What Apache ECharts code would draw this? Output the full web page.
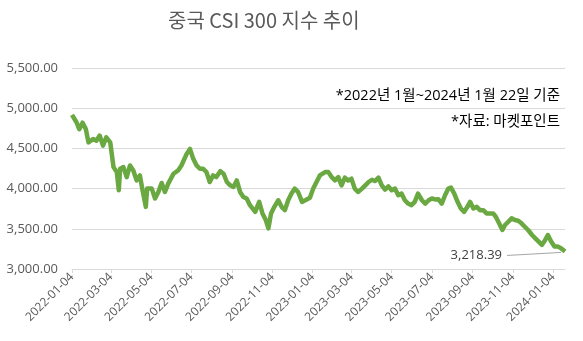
<!DOCTYPE html>
<html><head><meta charset="utf-8">
<script src="https://cdn.jsdelivr.net/npm/echarts@6/dist/echarts.min.js"></script>
<style>html,body{margin:0;padding:0;background:#fff}#c{width:583px;height:341px}</style>
</head><body><div id="c"></div>
<script>
const titleText = '중국 CSI 300 지수 추이';
const noteLines = ['*2022년 1월~2024년 1월 22일 기준', '*자료: 마켓포인트'];
const startDate = '2022-01-04';
const endDate = '2024-01-22';
const tickLabels = ['2022-01-04','2022-03-04','2022-05-04','2022-07-04','2022-09-04','2022-11-04','2023-01-04','2023-03-04','2023-05-04','2023-07-04','2023-09-04','2023-11-04','2024-01-04'];
const pointDates = [
'2022-01-04','2022-01-11','2022-01-15','2022-01-20','2022-01-25','2022-01-29','2022-02-05','2022-02-10','2022-02-15','2022-02-20','2022-02-25',
'2022-03-03','2022-03-08','2022-03-13','2022-03-16','2022-03-18','2022-03-23','2022-03-28','2022-04-02','2022-04-07','2022-04-12','2022-04-17','2022-04-21','2022-04-26','2022-04-28',
'2022-05-05','2022-05-10','2022-05-15','2022-05-20','2022-05-25','2022-05-30','2022-06-07','2022-06-14','2022-06-19','2022-06-27','2022-07-02','2022-07-07','2022-07-12','2022-07-17','2022-07-22','2022-07-27',
'2022-08-01','2022-08-06','2022-08-11','2022-08-17','2022-08-22','2022-08-27','2022-09-01','2022-09-06','2022-09-11','2022-09-16','2022-09-21','2022-09-26','2022-10-01','2022-10-09','2022-10-15','2022-10-20','2022-10-25','2022-10-29',
'2022-11-02','2022-11-07','2022-11-13','2022-11-18','2022-11-23','2022-11-28','2022-12-03','2022-12-08','2022-12-13','2022-12-19','2022-12-24','2022-12-31',
'2023-01-05','2023-01-10','2023-01-15','2023-01-23','2023-01-28','2023-02-02','2023-02-07','2023-02-12','2023-02-17','2023-02-22','2023-02-27','2023-03-04','2023-03-09','2023-03-14','2023-03-20','2023-03-25','2023-03-30',
'2023-04-04','2023-04-09','2023-04-14','2023-04-19','2023-04-24','2023-04-29','2023-05-04','2023-05-09','2023-05-14','2023-05-19','2023-05-24','2023-05-29','2023-06-03','2023-06-08','2023-06-13','2023-06-19','2023-06-24','2023-06-29',
'2023-07-04','2023-07-09','2023-07-14','2023-07-19','2023-07-24','2023-07-29','2023-08-02','2023-08-07','2023-08-12','2023-08-17','2023-08-22','2023-08-27','2023-08-31','2023-09-05','2023-09-10','2023-09-15','2023-09-20','2023-09-25','2023-09-30',
'2023-10-05','2023-10-09','2023-10-14','2023-10-19','2023-10-23','2023-10-28','2023-11-02','2023-11-07','2023-11-12','2023-11-17','2023-11-22','2023-11-27','2023-12-03','2023-12-08','2023-12-13','2023-12-18','2023-12-23','2023-12-27',
'2024-01-01','2024-01-06','2024-01-11','2024-01-16','2024-01-22'];
const pointValues = [
4917,4822,4740,4820,4740,4575,4617,4596,4660,4535,4637,
4575,4267,4205,3980,4247,4267,4143,4288,4226,4102,4164,3980,3773,4000,
4000,3877,3958,4070,3958,4062,4185,4226,4288,4432,4494,4370,4288,4247,4247,4205,
4082,4164,4143,4217,4185,4082,4041,4020,4102,3958,3896,3877,3794,3711,3835,3691,3609,3506,
3691,3773,3855,3773,3732,3855,3938,4000,3958,3835,3855,3885,
4000,4082,4164,4205,4205,4143,4102,4143,4041,4136,4102,4123,4000,3958,4000,4041,4082,
4110,4094,4136,4041,3988,4028,3979,4000,3917,3938,3855,3814,3794,3835,3938,3855,3814,3855,
3877,3865,3866,3814,3917,4000,4012,3938,3835,3753,3711,3773,3835,3753,3773,3732,3732,3691,3691,
3691,3650,3568,3485,3547,3588,3630,3609,3600,3568,3526,3485,3423,3382,3341,3300,3362,3423,
3341,3279,3279,3259,3218.39];
const lastLabel = '3,218.39';

// category axis of calendar days
const categories = [];
{
  const d = new Date(startDate + 'T00:00:00Z');
  const e = new Date(endDate + 'T00:00:00Z');
  while (d <= e) { categories.push(d.toISOString().slice(0,10)); d.setUTCDate(d.getUTCDate()+1); }
}
const idx = {}; categories.forEach((c,i)=>idx[c]=i);
const seriesData = categories.map(()=>null);
pointDates.forEach((d,i)=>{ seriesData[idx[d]] = pointValues[i]; });
const isTick = (i, v) => tickLabels.includes(categories[i]);

const font = '"Open Sans", "Noto Sans CJK KR", sans-serif';
const chart = echarts.init(document.getElementById('c'), null, {renderer:'canvas'});
chart.setOption({
  animation: false,
  backgroundColor: '#fff',
  textStyle: {fontFamily: font},
  title: {text: titleText, left: 163, top: 5, textStyle: {fontSize: 20, fontWeight: 'normal', color: '#595959', fontFamily: '"Noto Sans CJK KR", sans-serif'}},
  grid: {left: 72, right: 18, top: 68, bottom: 72, containLabel: false},
  xAxis: {
    type: 'category', data: categories, boundaryGap: false,
    axisLine: {lineStyle: {color: '#d9d9d9'}},
    axisTick: {show: true, interval: isTick, length: 4, lineStyle: {color: '#d9d9d9'}},
    axisLabel: {interval: isTick, rotate: 45, fontSize: 12, color: '#595959', margin: 6, fontFamily: font},
    splitLine: {show: false}
  },
  yAxis: {
    type: 'value', min: 3000, max: 5500, interval: 500,
    axisLine: {show: false}, axisTick: {show: false},
    axisLabel: {fontSize: 13, color: '#595959', margin: 14, fontFamily: font,
      formatter: v => v.toLocaleString('en-US', {minimumFractionDigits: 2, maximumFractionDigits: 2})},
    splitLine: {lineStyle: {color: '#d9d9d9'}}
  },
  series: [{
    type: 'line', data: seriesData, connectNulls: true, showSymbol: false, symbol: 'none',
    lineStyle: {color: '#6aa842', width: 4.5, join: 'round'}, z: 3
  }]
});

const lastIdx = idx[pointDates[pointDates.length-1]];
const p = chart.convertToPixel({xAxisIndex:0, yAxisIndex:0}, [lastIdx, pointValues[pointValues.length-1]]);
chart.setOption({
  graphic: [
    {type:'text', right: 23, top: 89, style:{text: noteLines[0], font: '14.5px ' + font, fill: '#000'}},
    {type:'text', right: 23, top: 115, style:{text: noteLines[1], font: '14.5px ' + font, fill: '#000'}},
    {type:'line', shape:{x1: p[0]-58, y1: p[1]+4, x2: p[0]-4, y2: p[1]+1}, style:{stroke:'#a6a6a6', lineWidth:1}, z: 2},
    {type:'text', x: p[0]-63, y: p[1]+4, style:{text: lastLabel, font: '13px ' + font, fill: '#404040', align:'right', verticalAlign:'middle'}}
  ]
});
</script></body></html>
